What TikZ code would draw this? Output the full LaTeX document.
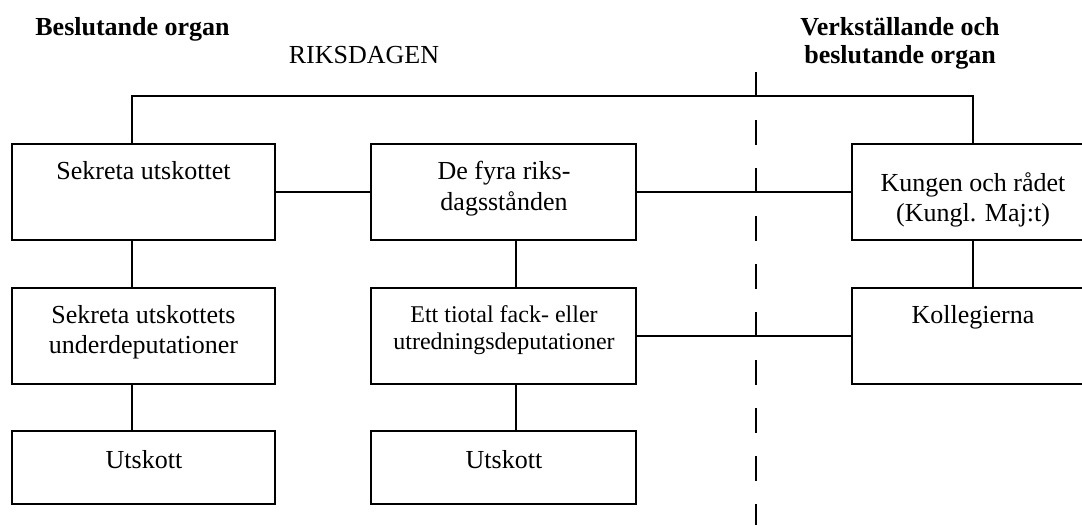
\documentclass[tikz,border=0pt]{standalone}
\usepackage{fontspec}
\setmainfont{Liberation Serif}
\begin{document}
\begin{tikzpicture}[x=0.5pt,y=-0.5pt,
  box/.style={draw, line width=1pt, inner sep=0pt, minimum height=48pt},
  lowbox/.style={draw, line width=1pt, inner sep=0pt, minimum height=36.5pt},
  w1/.style={minimum width=131.5pt},
  w2/.style={minimum width=132.5pt},
  w3/.style={minimum width=121pt},
  conn/.style={line width=1pt},
  divider/.style={line width=1pt, dash pattern=on 12.3pt off 11.7pt},
  txt/.style={inner sep=0pt, align=center, font=\fontsize{13}{15.2}\selectfont},
  smalltxt/.style={inner sep=0pt, align=center, font=\fontsize{12}{13.6}\selectfont},
  head/.style={inner sep=0pt, align=center, font=\fontsize{13}{14.2}\selectfont\bfseries},
  plainhead/.style={inner sep=0pt, font=\fontsize{13}{15}\selectfont}]
\useasboundingbox (0,0) rectangle (1082,525);
\fill[white] (0,0) rectangle (1082,525);

% headings
\node[head, anchor=north west] (hl) at (35,17) {Beslutande organ};
\node[plainhead, anchor=north] (hr) at (364,46) {RIKSDAGEN};
\node[head, anchor=north] (hv) at (900,17) {Verkställande och\\beslutande organ};

% boxes
\node[box, w1] (b11) at (143.5,191.5) {};
\node[box, w2] (b12) at (503.5,191.5) {};
\node[box, w3] (b13) at (973,191.5) {};
\node[box, w1] (b21) at (143.5,335.5) {};
\node[box, w2] (b22) at (503.5,335.5) {};
\node[box, w3] (b23) at (973,335.5) {};
\node[lowbox, w1] (b31) at (143.5,467.5) {};
\node[lowbox, w2] (b32) at (503.5,467.5) {};

% box texts
\node[txt, anchor=north] (t11) at (143.5,161) {Sekreta utskottet};
\node[txt, anchor=north] (t12) at (504,161) {De fyra riks-\\dagsstånden};
\node[txt, anchor=north] (t13) at (973,172) {Kungen och rådet\\(Kungl. Maj:t)};
\node[txt, anchor=north] (t21) at (143.5,305) {Sekreta utskottets\\underdeputationer};
\node[smalltxt, anchor=north] (t22) at (504,305) {Ett tiotal fack- eller\\utredningsdeputationer};
\node[txt, anchor=north] (t23) at (973,305) {Kollegierna};
\node[txt, anchor=north] (t31) at (144,450) {Utskott};
\node[txt, anchor=north] (t32) at (504,450) {Utskott};

% helper coordinates
\coordinate (c1) at (132,95.7);
\coordinate (c3) at (973,95.7);
\coordinate (c2) at (516,0);
\coordinate (d1) at (756,72);
\coordinate (d2) at (756,525);

% connectors
\draw[conn] (c1 |- b11.north) -- (c1) -- (c3) -- (b13.north);
\draw[conn] (b11.east) -- (b12.west);
\draw[conn] (b12.east) -- (b13.west);
\draw[conn] (c1 |- b11.south) -- (c1 |- b21.north);
\draw[conn] (c1 |- b21.south) -- (c1 |- b31.north);
\draw[conn] (c2 |- b12.south) -- (c2 |- b22.north);
\draw[conn] (c2 |- b22.south) -- (c2 |- b32.north);
\draw[conn] (b13.south) -- (b23.north);
\draw[conn] (b22.east) -- (b23.west);
\draw[divider] (d1) -- (d2);
\end{tikzpicture}
\end{document}
